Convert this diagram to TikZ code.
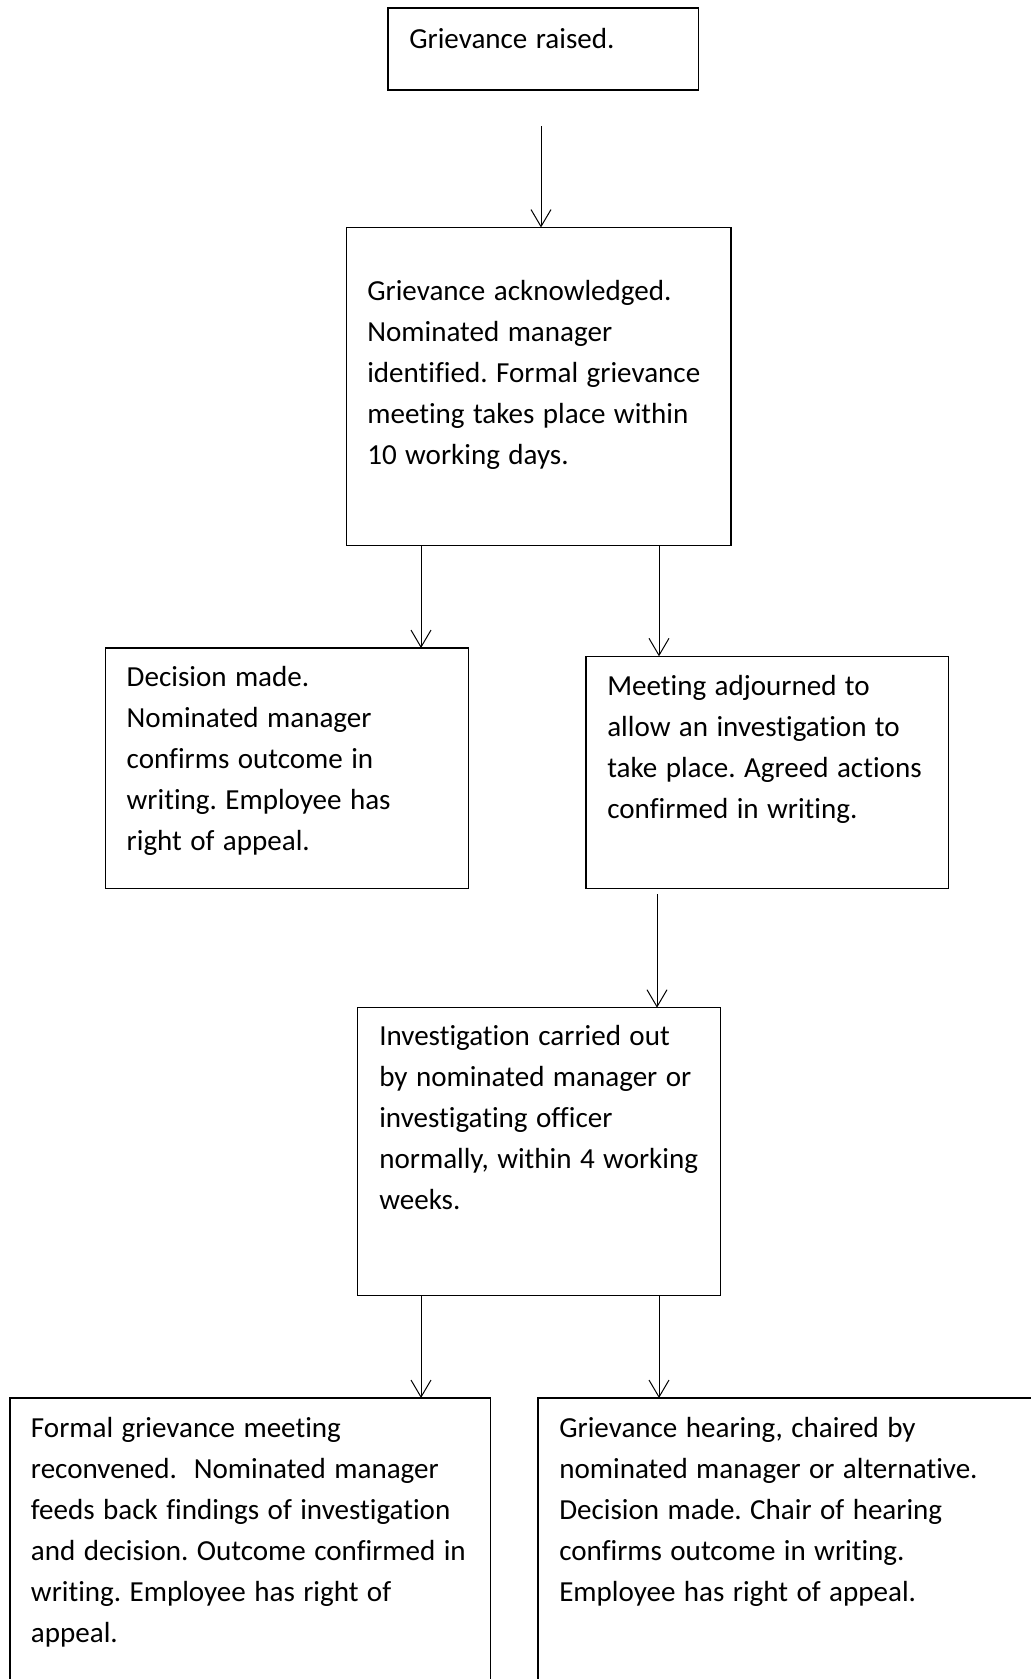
\documentclass[tikz,border=0pt]{standalone}
\usepackage{fontspec}
\setmainfont{Carlito}[RawFeature=-liga]
\usetikzlibrary{arrows.meta}
\newdimen\pxu \pxu=0.75pt
\frenchspacing
\begin{document}
\begin{tikzpicture}[x=0.75pt,y=-0.75pt,
  box/.style={draw, line width=1.15pt, inner sep=0pt, outer sep=0pt},
  txt/.style={anchor=base west, inner sep=0pt, outer sep=0pt, align=left,
              text width=470\pxu, font=\fontsize{21.8pt}{30.75pt}\selectfont,
              execute at begin node={\spaceskip=0.29em plus 0.05em minus 0.02em\relax}},
  arr/.style={line width=0.75pt, -{Straight Barb[length=12.75pt, width=15pt, line width=0.75pt]}}]
\useasboundingbox (0,0) rectangle (1031,1679);
\clip (0,0) rectangle (1031,1679);
\fill[white] (0,0) rectangle (1031,1679);
% boxes
\node[box, minimum width=310.7\pxu, minimum height=82\pxu] (b1) at (543.3,49) {};
\node[box, minimum width=384.3\pxu, minimum height=318.2\pxu] (b2) at (538.85,386.6) {};
\node[box, minimum width=362.6\pxu, minimum height=240.3\pxu] (b3) at (287,768.2) {};
\node[box, minimum width=362.7\pxu, minimum height=232\pxu] (b4) at (767.35,772.3) {};
\node[box, minimum width=362.6\pxu, minimum height=287.6\pxu] (b5) at (539,1151.5) {};
\node[box, minimum width=480.5\pxu, minimum height=322\pxu] (b6) at (250.25,1559) {};
\node[box, minimum width=522\pxu, minimum height=322\pxu] (b7) at (799,1559) {};
% texts
\node[txt] (t1) at (409.3,48.3) {Grievance raised.};
\node[txt] (t2) at (367.3,300) {Grievance acknowledged.\\Nominated manager\\identified. Formal grievance\\meeting takes place within\\10 working days.};
\node[txt] (t3) at (126.7,686.5) {Decision made.\\Nominated manager\\confirms outcome in\\writing. Employee has\\right of appeal.};
\node[txt] (t4) at (607.3,695) {Meeting adjourned to\\allow an investigation to\\take place. Agreed actions\\confirmed in writing.};
\node[txt] (t5) at (379.3,1045.7) {Investigation carried out\\by nominated manager or\\investigating officer\\normally, within 4 working\\weeks.};
\node[txt] (t6) at (31,1437.3) {Formal grievance meeting\\reconvened.~ Nominated manager\\feeds back findings of investigation\\and decision. Outcome confirmed in\\writing. Employee has right of\\appeal.};
\node[txt] (t7) at (559.3,1437.3) {Grievance hearing, chaired by\\nominated manager or alternative.\\Decision made. Chair of hearing\\confirms outcome in writing.\\Employee has right of appeal.};
% arrow positions
\coordinate (c0) at (541,126);
\coordinate (c4) at (657,894);
\coordinate (xl) at (421,0);
\coordinate (xr) at (659,0);
% connectors
\draw[arr] (c0) -- (c0 |- b2.north);
\draw[arr] (b2.south -| xl) -- (b3.north -| xl);
\draw[arr] (b2.south -| xr) -- (b4.north -| xr);
\draw[arr] (c4) -- (c4 |- b5.north);
\draw[arr] (b5.south -| xl) -- (b6.north -| xl);
\draw[arr] (b5.south -| xr) -- (b7.north -| xr);
\end{tikzpicture}
\end{document}
